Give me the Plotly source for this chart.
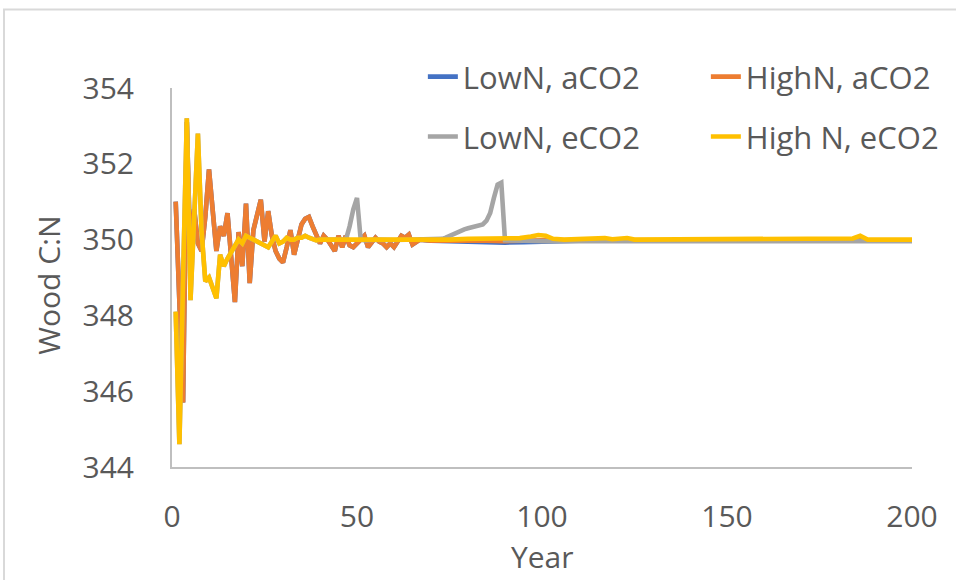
import plotly.graph_objects as go

# ---- data -------------------------------------------------------------
years_early = list(range(1, 68))

high_n_aco2_early = [
    351.0, 348.4, 345.7, 353.1, 349.4, 350.8, 349.9, 349.7, 350.6, 351.85,
    350.6, 349.7, 350.35, 350.1, 350.7, 349.5, 348.35, 350.2, 349.3, 350.95,
    348.85, 350.25, 350.6, 351.05, 349.95, 350.75, 350.1, 349.7, 349.5, 349.4,
    349.8, 350.25, 349.6, 350.0, 350.4, 350.55, 350.6, 350.35, 350.15, 349.9,
    350.1, 350.0, 349.85, 349.7, 350.1, 349.8, 350.1, 349.85, 349.8, 349.9,
    350.0, 350.1, 349.8, 349.95, 350.05, 349.95, 349.9, 349.8, 349.9, 349.8,
    349.95, 350.1, 350.05, 350.13, 349.87, 349.95, 350.0,
]
years_late_a = [70, 75, 80, 85, 90, 95, 100, 110, 120, 130, 140, 150, 160, 170, 180, 190, 200]
high_n_aco2_late = [349.97, 349.98, 349.96, 349.97, 349.96, 349.98, 349.98, 349.99, 349.98,
                    349.99, 349.98, 349.98, 349.98, 349.98, 349.98, 349.98, 349.98]
low_n_aco2_late = [349.97, 349.95, 349.93, 349.92, 349.92, 349.93, 349.95, 349.97, 349.98,
                   349.98, 349.98, 349.98, 349.98, 349.98, 349.98, 349.98, 349.98]

years_e_early = list(range(1, 41))
high_n_eco2_early = [
    348.1, 344.6, 349.0, 353.2, 348.4, 350.6, 352.8, 350.2, 348.9, 349.0,
    348.7, 348.45, 349.6, 349.3, 349.5, 349.65, 349.85, 350.0, 349.9, 350.1,
    350.05, 350.0, 349.95, 349.9, 349.85, 349.8, 349.95, 350.1, 349.9, 349.95,
    350.05, 350.0, 350.0, 350.05, 350.05, 350.1, 350.05, 350.0, 349.98, 350.0,
]
years_he_late = [45, 50, 55, 60, 65, 70, 75, 80, 85, 88, 91, 94, 97, 99, 101, 103, 106,
                 110, 115, 117, 119, 123, 125, 130, 140, 150, 160, 170, 180, 184, 186,
                 188, 195, 200]
high_n_eco2_late = [350.0, 349.98, 350.0, 350.0, 349.99, 350.0, 350.0, 350.02, 350.03,
                    350.03, 350.05, 350.04, 350.08, 350.12, 350.1, 350.02, 350.0, 350.01,
                    350.02, 350.04, 350.01, 350.04, 350.0, 350.0, 350.0, 350.0, 350.0,
                    350.0, 350.0, 350.03, 350.1, 350.0, 350.0, 350.0]

years_le_late = [41, 44, 46, 47, 48, 49, 50, 51, 52, 55, 60, 65, 70, 73, 74, 75, 76, 77,
                 78, 79, 80, 81, 82, 83, 84, 85, 86, 87, 88, 89, 90, 95, 100, 120, 140,
                 160, 180, 200]
low_n_eco2_late = [350.0, 349.98, 350.0, 350.0, 350.35, 350.8, 351.1, 350.0, 349.98,
                   350.0, 349.99, 350.0, 350.0, 350.02, 350.05, 350.1, 350.15, 350.2,
                   350.25, 350.27, 350.3, 350.33, 350.35, 350.38, 350.4, 350.5, 350.7,
                   351.1, 351.45, 351.5, 349.98, 349.97, 349.96, 349.96, 349.96, 349.96,
                   349.96, 349.96]

x_ticks = [0, 50, 100, 150, 200]
y_ticks = [344, 346, 348, 350, 352, 354]

series = [
    ("LowN, aCO2", years_early + years_late_a, high_n_aco2_early + low_n_aco2_late, "#4472C4", "legend"),
    ("HighN, aCO2", years_early + years_late_a, high_n_aco2_early + high_n_aco2_late, "#ED7D31", "legend"),
    ("LowN, eCO2", years_e_early + years_le_late, high_n_eco2_early + low_n_eco2_late, "#A5A5A5", "legend2"),
    ("High N, eCO2", years_e_early + years_he_late, high_n_eco2_early + high_n_eco2_late, "#FFC000", "legend2"),
]

FONT = "Open Sans"
TXT = "#595959"

fig = go.Figure()
for name, xs, ys, color, leg in series:
    fig.add_trace(go.Scatter(
        x=xs, y=ys, mode="lines", name=name, legend=leg,
        line=dict(color=color, width=4.6),
    ))

legend_style = dict(orientation="h", x=0.339, xanchor="left", yanchor="middle",
                    entrywidth=238, entrywidthmode="pixels", bgcolor="rgba(0,0,0,0)",
                    font=dict(family=FONT, size=31, color=TXT))

fig.update_layout(
    width=956, height=580,
    margin=dict(l=172, r=44, t=88, b=113, autoexpand=False),
    paper_bgcolor="white", plot_bgcolor="white",
    font=dict(family=FONT, size=30, color=TXT),
    legend=dict(legend_style, y=1.029),
    legend2=dict(legend_style, y=0.871),
    xaxis=dict(range=[0, 200], tickvals=x_ticks, showgrid=False, zeroline=False,
               showline=True, linecolor="#BFBFBF", linewidth=2, ticks="",
               ticklabelstandoff=22, tickfont=dict(family=FONT, size=30, color=TXT)),
    yaxis=dict(range=[344, 354], tickvals=y_ticks, showgrid=False, zeroline=False,
               showline=True, linecolor="#BFBFBF", linewidth=2, ticks="",
               ticklabelstandoff=30, tickfont=dict(family=FONT, size=30, color=TXT)),
    shapes=[dict(type="rect", xref="paper", yref="paper",
                 x0=-0.227, x1=1.3, y0=-0.6, y1=1.207,
                 line=dict(color="#D9D9D9", width=2), layer="below")],
    annotations=[
        dict(text="Year", xref="paper", yref="paper", x=0.5, y=-0.235,
             showarrow=False, xanchor="center", yanchor="middle",
             font=dict(family=FONT, size=30, color=TXT)),
        dict(text="Wood C:N", xref="paper", yref="paper", x=-0.168, y=0.48,
             showarrow=False, textangle=-90, xanchor="center", yanchor="middle",
             font=dict(family=FONT, size=30, color=TXT)),
    ],
)

fig.write_html("out.html")
